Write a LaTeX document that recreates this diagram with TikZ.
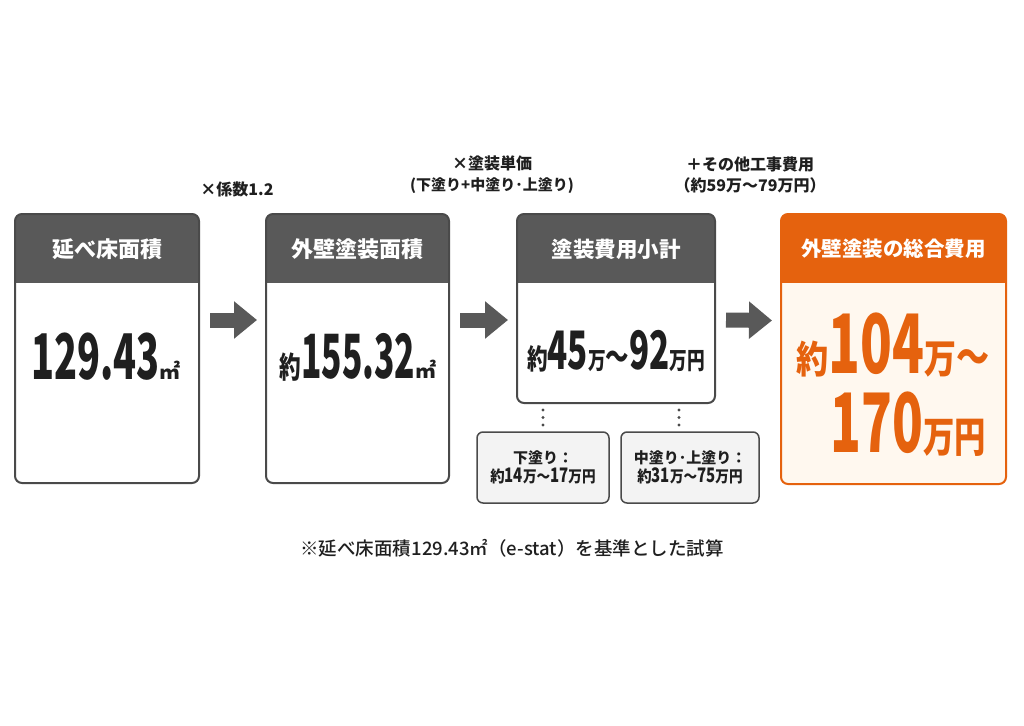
\documentclass[tikz,border=0pt]{standalone}
\usepackage{fontspec}
\setmainfont{Noto Sans CJK JP}
\newfontfamily\jpmed{Noto Sans CJK JP Medium}
\usepackage{graphicx}
\usetikzlibrary{arrows.meta}
\definecolor{hdr}{HTML}{595959}
\definecolor{edgec}{HTML}{4A4A4A}
\definecolor{org}{HTML}{E5620E}
\definecolor{cream}{HTML}{FFF8EF}
\definecolor{txt}{HTML}{1F1F1F}
\definecolor{subfill}{HTML}{F3F3F3}
\newcommand\cn[2]{\scalebox{#1}[1]{#2}}
\newcommand\fs[1]{\fontsize{#1}{#1}\selectfont}
\begin{document}
\begin{tikzpicture}[x=1pt,y=-1pt,
  boxbg/.style={rectangle, rounded corners=7pt, outer sep=0pt, inner sep=0pt},
  boxline/.style={draw=edgec, line width=2pt, rounded corners=7pt},
  htxt/.style={text=white, font=\bfseries\fs{22}, inner sep=0pt},
  body/.style={anchor=base, text=txt, font=\bfseries, inner sep=0pt},
  lbl/.style={text=txt, font=\bfseries\fs{16}, inner sep=0pt, align=center},
  subbox/.style={rectangle, draw=edgec, line width=1.5pt, rounded corners=6pt, fill=subfill, inner sep=0pt, align=center, text=txt, font=\bfseries\fs{15}},
  blockarrow/.style={draw=hdr, line width=15pt, -{Triangle[width=36pt,length=23pt]}},
  dotline/.style={draw=edgec, line width=3.4pt, line cap=round, dash pattern=on 0pt off 7.5pt}
]
\useasboundingbox[fill=white] (0,0) rectangle (1024,725);

% main boxes
\node[boxbg, fill=white, minimum width=184pt, minimum height=269pt] (b1) at (107,348.5) {};
\node[boxbg, fill=white, minimum width=183pt, minimum height=269pt] (b2) at (357.5,348.5) {};
\node[boxbg, fill=white, minimum width=198pt, minimum height=189pt] (b3) at (616,308.5) {};
\node[boxbg, fill=cream, minimum width=225pt, minimum height=270pt] (b4) at (893.5,349) {};

\foreach \b/\c in {b1/hdr,b2/hdr,b3/hdr,b4/org}{
  \begin{scope}
    \clip[rounded corners=7pt] (\b.north west) rectangle (\b.south east);
    \fill[\c] (\b.north west) rectangle ([yshift=-69pt]\b.north east);
  \end{scope}
}
\draw[boxline] (b1.north west) rectangle (b1.south east);
\draw[boxline] (b2.north west) rectangle (b2.south east);
\draw[boxline] (b3.north west) rectangle (b3.south east);
\draw[boxline, draw=org] (b4.north west) rectangle (b4.south east);

% headers
\node[htxt] (h1) at ([yshift=-35pt]b1.north) {延べ床面積};
\node[htxt] (h2) at ([yshift=-35pt]b2.north) {外壁塗装面積};
\node[htxt, font=\bfseries\fs{21.5}] (h3) at ([yshift=-35pt]b3.north) {塗装費用小計};
\node[htxt, font=\bfseries\fs{20.5}] (h4) at ([yshift=-35pt]b4.north) {外壁塗装の総合費用};

% body values
\node[body] (v1) at (106,379) {\cn{0.6}{\fs{63}129.43}\fs{21}㎡};
\node[body] (v2) at (358,378) {\cn{0.72}{\fs{30}約}\cn{0.55}{\fs{61}155.32}\fs{21}㎡};
\node[body] (v3) at (616,369) {\cn{0.92}{\cn{0.8}{\fs{28}約}\cn{0.68}{\fs{53}45}\cn{0.8}{\fs{24}万}\cn{0.75}{\fs{34}～}\cn{0.68}{\fs{53}92}\cn{0.8}{\fs{24}万円}}};
\node[body, text=org] (v4a) at (893,373) {\cn{0.94}{\cn{0.9}{\fs{38}約}\cn{0.68}{\fs{82}104}\cn{0.85}{\fs{40}万}\cn{0.8}{\fs{44}～}}};
\node[body, text=org] (v4b) at (908,452) {\cn{0.91}{\cn{0.68}{\fs{82}170}\cn{0.82}{\fs{42}万円}}};

% arrows
\draw[blockarrow] ([yshift=28.5pt,xshift=11pt]b1.east) -- ([yshift=28.5pt,xshift=-9pt]b2.west);
\draw[blockarrow] ([yshift=28.5pt,xshift=11pt]b2.east) -- ([yshift=28.5pt,xshift=-9pt]b3.west |- b2.east);
\draw[blockarrow] ([yshift=-11.5pt,xshift=11pt]b3.east) -- ([yshift=28.5pt,xshift=-9pt]b4.west);

% operation labels
\node[lbl] (l1) at (237,189) {×係数1.2};
\node[lbl] (l2) at (492,175) {×塗装単価\\[5pt]\fs{15}(下塗り+中塗り･上塗り)};
\node[lbl] (l3) at (750,175) {＋その他工事費用\\[5pt]（約59万～79万円）};

% sub boxes
\node[subbox, minimum width=132pt, minimum height=71pt] (s1) at (543,467.5)
  {下塗り：\\[2pt]\cn{0.9}{\fs{16}約}\cn{0.75}{\fs{20}14}\cn{0.85}{\fs{16}万～}\cn{0.75}{\fs{20}17}\cn{0.85}{\fs{16}万円}};
\node[subbox, minimum width=138pt, minimum height=71pt] (s2) at (690,467.5)
  {中塗り･上塗り：\\[2pt]\cn{0.9}{\fs{16}約}\cn{0.75}{\fs{20}31}\cn{0.85}{\fs{16}万～}\cn{0.75}{\fs{20}75}\cn{0.85}{\fs{16}万円}};
\coordinate (d1) at (543,403);
\coordinate (d2) at (679,403);
\draw[dotline] ([yshift=-7pt]d1) -- ([yshift=4pt]s1.north);
\draw[dotline] ([yshift=-7pt]d2) -- ([yshift=4pt]s2.north -| d2);

% footnote
\node[text=txt, font=\jpmed\fs{18.5}, inner sep=0pt] (fn) at (512,548) {※延べ床面積129.43㎡（e-stat）を基準とした試算};
\end{tikzpicture}
\end{document}
